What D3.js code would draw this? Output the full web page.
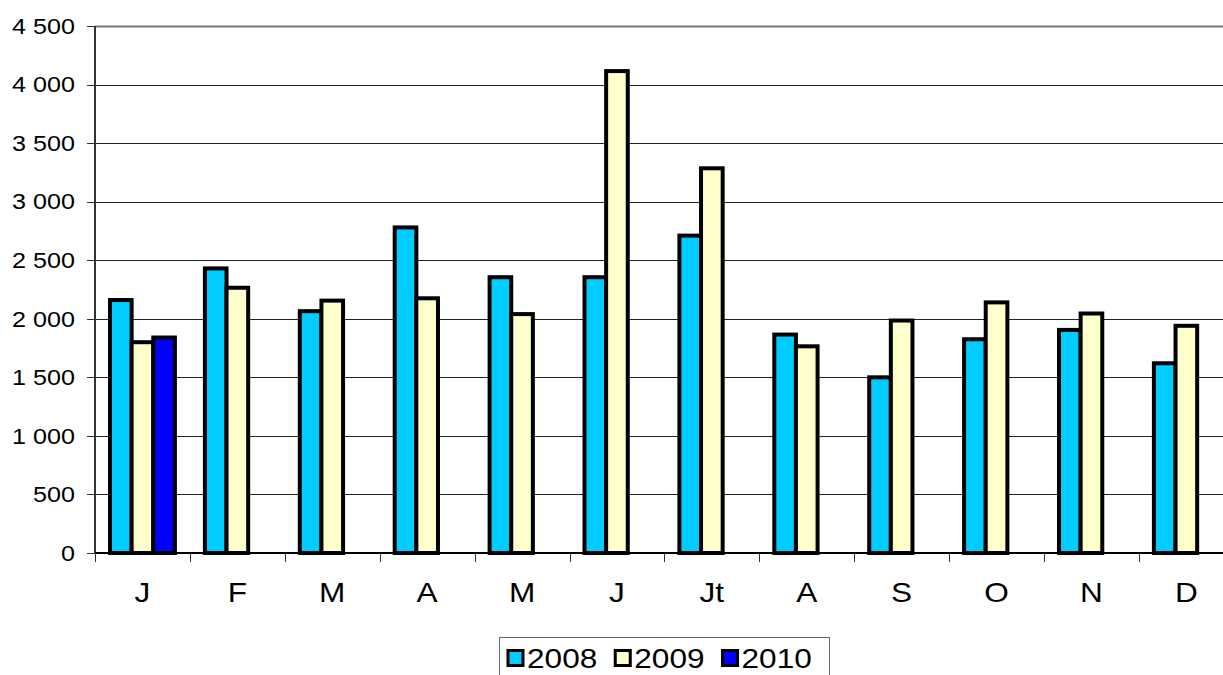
<!DOCTYPE html>
<meta charset="utf-8">
<script src="https://d3js.org/d3.v7.min.js"></script>
<style>
  body { margin: 0; background: #fff; }
  text { font-family: "Liberation Sans", Arial, sans-serif; fill: #000; }
</style>
<body>
<div id="chart"></div>
<script>
// data
var months = ["J", "F", "M", "A", "M", "J", "Jt", "A", "S", "O", "N", "D"];
var series = ["2008", "2009", "2010"];
var v2008 = [2160, 2430, 2065, 2780, 2355, 2355, 2710, 1865, 1500, 1825, 1905, 1620];
var v2009 = [1800, 2265, 2155, 2175, 2040, 4115, 3285, 1765, 1985, 2140, 2045, 1940];
var v2010 = [1840];
var yTicks = [0, 500, 1000, 1500, 2000, 2500, 3000, 3500, 4000, 4500];
var colors = ["#00ccff", "#ffffcc", "#0000ff"];

var values = [v2008, v2009, v2010];
var W = 1223, H = 675;
var sx = 1.17; // the original is stretched sideways a bit

// plot frame
var plotLeft = 95, plotTop = 26, plotBottom = 553, step = 94.9;
var plotRight = plotLeft + step * months.length;

var svg = d3.select("#chart").append("svg")
  .attr("width", W)
  .attr("height", H);

function stretched(sel, x, y) {
  sel.attr("transform", "translate(" + x + "," + y + ") scale(" + sx + ",1)");
}

var y = d3.scaleLinear().domain([0, 4500]).range([plotBottom, plotTop]);
var x0 = d3.scaleBand().domain(d3.range(months.length)).range([plotLeft, plotRight]);
var x1 = d3.scaleBand().domain(series).range([15, step - 15]);

// gridlines
svg.selectAll(".grid")
  .data(yTicks.filter(function(d) { return d > 0; }))
  .enter().append("line")
    .attr("x1", plotLeft).attr("x2", plotRight)
    .attr("y1", function(d) { return Math.round(y(d)) + 0.5; })
    .attr("y2", function(d) { return Math.round(y(d)) + 0.5; })
    .style("stroke", function(d) { return d == 4500 ? "#777" : "#222"; })
    .style("stroke-width", function(d) { return d == 4500 ? 2 : 1; });

// y axis
svg.append("line")
  .attr("x1", plotLeft).attr("x2", plotLeft)
  .attr("y1", plotTop).attr("y2", plotBottom)
  .style("stroke", "#333").style("stroke-width", 2);

svg.selectAll(".ytick")
  .data(yTicks).enter().append("line")
    .attr("x1", plotLeft - 8).attr("x2", plotLeft)
    .attr("y1", function(d) { return Math.round(y(d)) + 0.5; })
    .attr("y2", function(d) { return Math.round(y(d)) + 0.5; })
    .style("stroke", "#333").style("stroke-width", 1);

svg.selectAll(".ylab")
  .data(yTicks).enter().append("text")
    .style("font-size", "21.5px")
    .attr("text-anchor", "end")
    .attr("dy", "0.36em")
    .text(function(d) { return d3.format(",")(d).replace(/,/g, " "); })
    .each(function(d) { stretched(d3.select(this), 75, y(d)); });

// bars
var bars = [];
values.forEach(function(arr, s) {
  arr.forEach(function(v, i) { bars.push({ i: i, s: s, v: v }); });
});

svg.selectAll(".bar")
  .data(bars).enter().append("rect")
    .attr("x", function(d) { return x0(d.i) + x1(series[d.s]); })
    .attr("y", function(d) { return y(d.v); })
    .attr("width", x1.bandwidth())
    .attr("height", function(d) { return plotBottom - y(d.v); })
    .style("fill", function(d) { return colors[d.s]; })
    .style("stroke", "#000")
    .style("stroke-width", 4);

// x axis
svg.append("line")
  .attr("x1", plotLeft).attr("x2", plotRight)
  .attr("y1", plotBottom).attr("y2", plotBottom)
  .style("stroke", "#000").style("stroke-width", 2);

svg.selectAll(".xtick")
  .data(d3.range(months.length + 1)).enter().append("line")
    .attr("x1", function(d) { return Math.round(plotLeft + d * step) + 0.5; })
    .attr("x2", function(d) { return Math.round(plotLeft + d * step) + 0.5; })
    .attr("y1", plotBottom).attr("y2", plotBottom + 9)
    .style("stroke", "#333").style("stroke-width", 1);

svg.selectAll(".xlab")
  .data(months).enter().append("text")
    .style("font-size", "27px")
    .attr("text-anchor", "middle")
    .text(function(d) { return d; })
    .each(function(d, i) { stretched(d3.select(this), x0(i) + step / 2, 602); });

// legend
var legend = svg.append("g");
legend.append("rect")
  .attr("x", 499.5).attr("y", 637.5)
  .attr("width", 330).attr("height", 50)
  .style("fill", "#fff").style("stroke", "#666").style("stroke-width", 1);

var lx = 508;
series.forEach(function(s, k) {
  legend.append("rect")
    .attr("x", lx).attr("y", 650.5)
    .attr("width", 15).attr("height", 15)
    .style("fill", colors[k]).style("stroke", "#000").style("stroke-width", 3);
  var t = legend.append("text")
    .style("font-size", "27px")
    .text(s);
  stretched(t, lx + 19, 667.5);
  lx = lx + 19 + t.node().getComputedTextLength() * sx + 18;
});
</script>
</body>
